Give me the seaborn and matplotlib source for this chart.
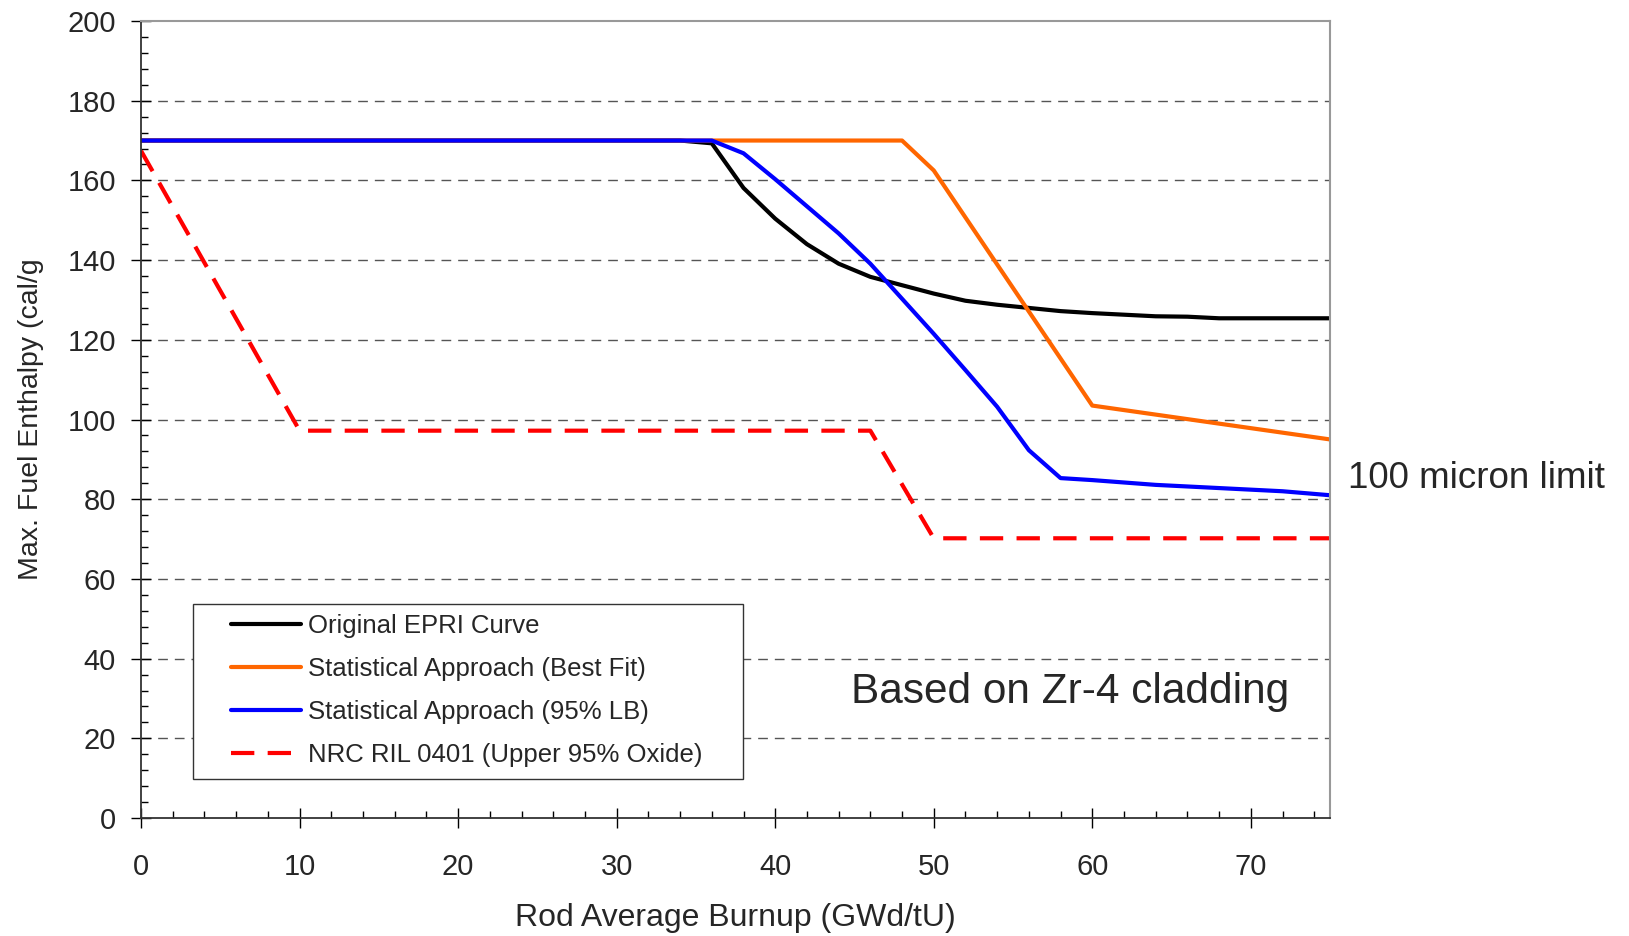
import matplotlib
matplotlib.use("Agg")
import matplotlib.pyplot as plt
from matplotlib.patches import Rectangle
from matplotlib.ticker import MultipleLocator
import seaborn as sns

# Burnup (GWd/tU) and max fuel enthalpy (cal/g)
epri_x = [0, 34, 36, 38, 40, 42, 44, 46, 48, 50, 52, 54, 56, 58, 60, 62, 64, 66, 68, 70, 72, 75]
epri_y = [170, 170, 169.3, 158.1, 150.4, 144.0, 139.1, 135.8, 133.7, 131.6, 129.8, 128.8,
          128.0, 127.2, 126.7, 126.3, 125.9, 125.8, 125.4, 125.4, 125.4, 125.4]

best_x = [0, 48, 50, 60, 75]
best_y = [170, 170, 162.5, 103.5, 95.0]

lb_x = [0, 36, 38, 40, 42, 44, 46, 48, 50, 52, 54, 56, 58, 60, 62, 64, 66, 68, 70, 72, 75]
lb_y = [170, 170, 166.8, 160.3, 153.5, 146.7, 139.1, 130.3, 121.5, 112.4, 103.2, 92.3,
        85.3, 84.8, 84.2, 83.6, 83.2, 82.8, 82.4, 82.0, 81.0]

nrc_x = [0, 10, 46, 50, 75]
nrc_y = [167.4, 97.2, 97.2, 70.2, 70.2]

series_labels = ["Original EPRI Curve", "Statistical Approach (Best Fit)",
                 "Statistical Approach (95% LB)", "NRC RIL 0401 (Upper 95% Oxide)"]

sns.set_style("ticks")
plt.rcParams["font.family"] = ["Liberation Sans", "DejaVu Sans"]

fig = plt.figure(figsize=(16.29, 9.36), dpi=100)
ax = fig.add_axes([0.0866, 0.126, 0.7299, 0.8516])

lw = 3.0
sns.lineplot(x=epri_x, y=epri_y, ax=ax, color="black", lw=lw, estimator=None, label=series_labels[0])
sns.lineplot(x=best_x, y=best_y, ax=ax, color="#FF6600", lw=lw, estimator=None, label=series_labels[1])
sns.lineplot(x=lb_x, y=lb_y, ax=ax, color="#0000FF", lw=lw, estimator=None, label=series_labels[2])
sns.lineplot(x=nrc_x, y=nrc_y, ax=ax, color="#FF0000", lw=lw, estimator=None,
             linestyle=(0, (5.6, 3.2)), label=series_labels[3])

ax.set_xlim(0, 75)
ax.set_ylim(0, 200)
ax.xaxis.set_major_locator(MultipleLocator(10))
ax.xaxis.set_minor_locator(MultipleLocator(2))
ax.yaxis.set_major_locator(MultipleLocator(20))
ax.yaxis.set_minor_locator(MultipleLocator(4))

ax.grid(False)
for yv in range(20, 200, 20):
    ax.axhline(yv, color="#555555", lw=1.0, ls=(0, (7, 5)), zorder=0)

ax.tick_params(axis="both", which="major", direction="inout", length=14, width=1.0,
               color="black", labelsize=21)
ax.tick_params(axis="x", which="major", pad=18)
ax.tick_params(axis="y", which="major", pad=11)
ax.tick_params(axis="both", which="minor", direction="in", length=5, width=1.0, color="black")

for side in ["left", "bottom"]:
    ax.spines[side].set_color("#333333")
    ax.spines[side].set_linewidth(1.3)
for side in ["top", "right"]:
    ax.spines[side].set_visible(True)
    ax.spines[side].set_color("#999999")
    ax.spines[side].set_linewidth(1.5)

ax.set_xlabel("Rod Average Burnup (GWd/tU)", fontsize=23, labelpad=16)
ax.set_ylabel("Max. Fuel Enthalpy (cal/g", fontsize=20.5, labelpad=17)

# legend box drawn separately so the inset can match the original
ax.add_patch(Rectangle((0.0437, 0.049), 0.4625, 0.2195, transform=ax.transAxes,
                       facecolor="white", edgecolor="#333333", lw=1.0, zorder=4))
leg = ax.legend(loc="upper left", bbox_to_anchor=(0.0757, 0.256), frameon=False,
                fontsize=18.5, handlelength=2.72, handletextpad=0.27, labelspacing=0.74,
                borderpad=0, borderaxespad=0)
leg.set_zorder(5)

ax.text(0.781, 0.158, "Based on Zr-4 cladding", transform=ax.transAxes,
        fontsize=30.5, ha="center", va="center")
fig.text(0.8275, 0.489, "100 micron limit", fontsize=26.5, ha="left", va="center")

fig.savefig("out.png", dpi=100)
